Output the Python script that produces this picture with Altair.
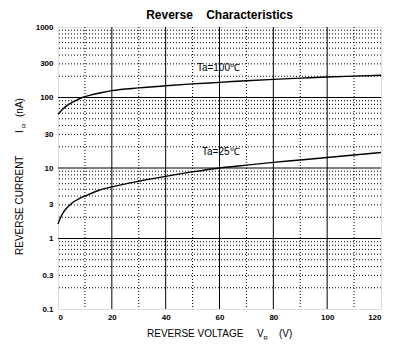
import altair as alt
import pandas as pd

# ---- data ----
v_100 = [0, 2, 4, 6, 9, 12, 16, 20, 30, 40, 50, 60, 70, 80, 90, 100, 110, 120]
i_100 = [58, 70, 80, 88, 100, 108, 117, 125, 137, 147, 156, 164, 173, 181, 188, 195, 201, 207]

v_25 = [0, 1, 2, 4, 6, 8, 10, 15, 20, 30, 40, 50, 60, 70, 80, 90, 100, 110, 120]
i_25 = [1.6, 2.0, 2.35, 2.9, 3.35, 3.7, 4.0, 4.8, 5.4, 6.5, 7.6, 8.8, 10.0, 11.0, 12.0, 13.0, 14.1, 15.3, 16.6]

y_ticks = [0.1, 0.3, 1, 3, 10, 30, 100, 300, 1000]
x_ticks = [0, 20, 40, 60, 80, 100, 120]
x_minor = [10, 30, 50, 70, 90, 110]
y_major = [1, 10, 100]
y_minor = [m * d for d in [0.1, 1, 10, 100] for m in range(2, 10)]

label_text = ["Ta=100℃", "Ta=25℃"]
label_v = [51.6, 53.5]
label_i = [262, 17.1]

W, H = 323, 282
FONT = "Liberation Sans"
NB = "\u00a0"

xs = alt.Scale(domain=[0, 120], nice=False, zero=False)
ys = alt.Scale(type="log", domain=[0.1, 1000], nice=False)

curves = pd.DataFrame(
    {"V": v_100 + v_25, "I": i_100 + i_25, "T": ["100"] * len(v_100) + ["25"] * len(v_25)}
)

base_axes = alt.Chart(pd.DataFrame({"V": [0], "I": [1]})).mark_point(opacity=0).encode(
    x=alt.X("V:Q", scale=xs, axis=alt.Axis(values=x_ticks, title=None, grid=False, ticks=False,
                                           domain=False, labelFont=FONT, labelFontSize=8,
                                           labelFontWeight="bold", labelColor="black",
                                           labelPadding=4)),
    y=alt.Y("I:Q", scale=ys, axis=alt.Axis(values=y_ticks, format="~g", title=None, grid=False,
                                           ticks=False, domain=False, labelFont=FONT,
                                           labelFontSize=8, labelFontWeight="bold",
                                           labelColor="black", labelPadding=5)),
)

minor_h = alt.Chart(pd.DataFrame({"I": y_minor})).mark_rule(
    color="black", strokeWidth=1, strokeDash=[1, 2]
).encode(y=alt.Y("I:Q", scale=ys))

minor_v = alt.Chart(pd.DataFrame({"V": x_minor})).mark_rule(
    color="black", strokeWidth=1, strokeDash=[1, 2]
).encode(x=alt.X("V:Q", scale=xs))

major_h = alt.Chart(pd.DataFrame({"I": y_major})).mark_rule(
    color="black", strokeWidth=1
).encode(y=alt.Y("I:Q", scale=ys))

major_v = alt.Chart(pd.DataFrame({"V": x_ticks[1:-1]})).mark_rule(
    color="black", strokeWidth=1
).encode(x=alt.X("V:Q", scale=xs))

lines = alt.Chart(curves).mark_line(color="black", strokeWidth=1.4, interpolate="monotone").encode(
    x=alt.X("V:Q", scale=xs), y=alt.Y("I:Q", scale=ys), detail="T:N"
)

labels = alt.Chart(pd.DataFrame({"V": label_v, "I": label_i, "t": label_text})).mark_text(
    align="left", baseline="middle", font=FONT, fontSize=10, color="black"
).encode(x=alt.X("V:Q", scale=xs), y=alt.Y("I:Q", scale=ys), text="t:N")

# axis titles with subscripts (pixel positions relative to the plot area)
def txt(s, x, y, size=10, angle=0):
    return alt.Chart(pd.DataFrame({"t": [s]})).mark_text(
        align="left", baseline="middle", font=FONT, fontSize=size, color="black", angle=angle
    ).encode(x=alt.value(x), y=alt.value(y), text="t:N")

titles = [
    txt("REVERSE VOLTAGE", 89, 307),
    txt("V", 199, 307),
    txt("R", 205.5, 311, size=6),
    txt("(V)", 221, 307),
    txt("REVERSE CURRENT", -38, 228, angle=270),
    txt("I", -38, 106, angle=270),
    txt("R", -34, 101, size=6, angle=270),
    txt("(nA)", -38, 90, angle=270),
]

chart = alt.layer(base_axes, minor_h, minor_v, major_h, major_v, lines, labels, *titles).properties(
    width=W, height=H,
    title=alt.TitleParams("Reverse" + NB * 4 + "Characteristics", font=FONT, fontSize=12,
                          fontWeight="bold", color="black", anchor="middle", offset=1),
    autosize=alt.AutoSizeParams(type="none"),
    padding={"left": 58, "top": 27, "right": 28, "bottom": 44},
).configure_view(stroke="black", strokeWidth=1.2).configure(background="white")

chart.save("out.html", embed_options={"renderer": "svg", "actions": False})
